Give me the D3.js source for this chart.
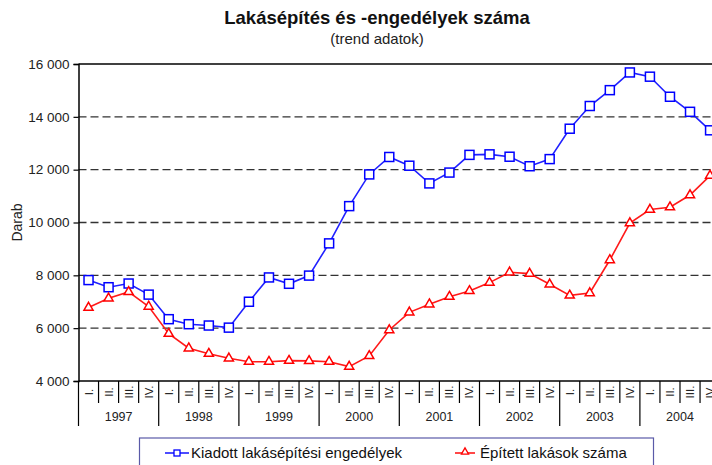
<!DOCTYPE html>
<html>
<head>
<meta charset="utf-8">
<script src="https://cdn.jsdelivr.net/npm/d3@7"></script>
<style>
  html, body { margin: 0; padding: 0; background: #fff; }
  svg text { font-family: "Liberation Sans", Arial, sans-serif; }
</style>
</head>
<body>
<div id="chart"></div>
<script>
const years = ["1997", "1998", "1999", "2000", "2001", "2002", "2003", "2004"];
const quarterLabels = ["I.", "II.", "III.", "IV."];
const categories = years.flatMap(y => quarterLabels.map(q => y + " " + q));
const permits = [7820, 7550, 7690, 7270, 6340, 6150, 6100, 6020,
                 7000, 7920, 7680, 7990, 9210, 10620, 11820, 12480,
                 12150, 11480, 11890, 12560, 12580, 12490, 12130, 12400,
                 13550, 14410, 15010, 15680, 15520, 14760, 14190, 13490];
const built = [6780, 7130, 7370, 6820, 5790, 5240, 5035, 4860,
               4730, 4730, 4770, 4760, 4730, 4545, 4950, 5930,
               6600, 6905, 7190, 7410, 7725, 8115, 8065, 7660,
               7240, 7330, 8580, 9980, 10490, 10580, 11040, 11775];
const yTicks = [4000, 6000, 8000, 10000, 12000, 14000, 16000];
const seriesNames = ["Kiadott lakásépítési engedélyek", "Épített lakások száma"];
const title = "Lakásépítés és -engedélyek száma";
const subtitle = "(trend adatok)";
const yLabel = "Darab";

const W = 712, H = 465;
const mLeft = 78.5, mTop = 64, mBottom = 381;
const bandW = 20.05;
const mRight = mLeft + categories.length * bandW;

const svg = d3.select("#chart").append("svg")
  .attr("width", W).attr("height", H);

const x = d3.scaleBand().domain(categories).range([mLeft, mRight]).padding(0);
const y = d3.scaleLinear().domain([4000, 16000]).range([mBottom, mTop]);
const fmt = v => d3.format(",")(v).replace(/,/g, " ");

// title
svg.append("text").attr("x", 377).attr("y", 24).attr("text-anchor", "middle")
  .attr("font-size", 18.5).attr("font-weight", "bold").attr("fill", "#111").text(title);
svg.append("text").attr("x", 377).attr("y", 44).attr("text-anchor", "middle")
  .attr("font-size", 15).attr("fill", "#222").text(subtitle);

// gridlines
svg.append("g").selectAll("line").data(yTicks.filter(t => t > 4000 && t < 16000)).join("line")
  .attr("x1", mLeft).attr("x2", mRight)
  .attr("y1", d => y(d)).attr("y2", d => y(d))
  .attr("stroke", "#333").attr("stroke-width", 1.4).attr("stroke-dasharray", "8,4");

// top border line
svg.append("line").attr("x1", mLeft).attr("x2", mRight).attr("y1", y(16000)).attr("y2", y(16000))
  .attr("stroke", "#000").attr("stroke-width", 1.5);

// y axis
const yAxis = d3.axisLeft(y).tickValues(yTicks).tickFormat(fmt).tickSize(5).tickPadding(4);
const gy = svg.append("g").attr("transform", `translate(${mLeft},0)`).call(yAxis);
gy.select(".domain").attr("stroke", "#000").attr("stroke-width", 1.5);
gy.selectAll(".tick line").attr("stroke", "#000").attr("stroke-width", 1.2);
gy.selectAll(".tick text").attr("font-size", 13.5).attr("fill", "#222")
  .attr("font-family", "Liberation Sans, Arial, sans-serif");

// y label
svg.append("text").attr("transform", `translate(22,${(mTop + mBottom) / 2}) rotate(-90)`)
  .attr("text-anchor", "middle").attr("font-size", 14).attr("fill", "#222").text(yLabel);

// x axis (bottom line + quarter / year dividers)
svg.append("line").attr("x1", mLeft).attr("x2", mRight).attr("y1", mBottom).attr("y2", mBottom)
  .attr("stroke", "#000").attr("stroke-width", 1.5);
const gx = svg.append("g");
gx.selectAll("line.q").data(categories).join("line").attr("class", "q")
  .attr("x1", d => x(d)).attr("x2", d => x(d))
  .attr("y1", mBottom)
  .attr("y2", (d, i) => i % 4 === 0 ? 426 : 403)
  .attr("stroke", "#000").attr("stroke-width", 1.2);
gx.selectAll("text.q").data(categories).join("text").attr("class", "q")
  .attr("transform", d => `translate(${x(d) + x.bandwidth() / 2 + 4},392) rotate(-90)`)
  .attr("text-anchor", "middle").attr("font-size", 11.5).attr("fill", "#222")
  .text(d => d.split(" ")[1]);
gx.selectAll("text.y").data(years).join("text").attr("class", "y")
  .attr("x", d => x(d + " I.") + 2 * bandW).attr("y", 421)
  .attr("text-anchor", "middle").attr("font-size", 12.5).attr("fill", "#222").text(d => d);

// lines
const line = d3.line().x((d, i) => x(categories[i]) + x.bandwidth() / 2).y(d => y(d));
svg.append("path").datum(permits).attr("d", line).attr("fill", "none")
  .attr("stroke", "#2020ff").attr("stroke-width", 1.6);
svg.append("path").datum(built).attr("d", line).attr("fill", "none")
  .attr("stroke", "#ff1a1a").attr("stroke-width", 1.6);

// markers
svg.append("g").selectAll("rect").data(permits).join("rect")
  .attr("x", (d, i) => x(categories[i]) + x.bandwidth() / 2 - 4.5)
  .attr("y", d => y(d) - 4.5).attr("width", 9).attr("height", 9)
  .attr("fill", "#fff").attr("stroke", "#0000ff").attr("stroke-width", 1.5);
const tri = d3.symbol().type(d3.symbolTriangle).size(36);
svg.append("g").selectAll("path").data(built).join("path")
  .attr("d", tri)
  .attr("transform", (d, i) => `translate(${x(categories[i]) + x.bandwidth() / 2},${y(d)})`)
  .attr("fill", "#fff").attr("stroke", "#ff0000").attr("stroke-width", 1.5);

// legend
const lg = svg.append("g");
lg.append("rect").attr("x", 139.5).attr("y", 438).attr("width", 514).attr("height", 40)
  .attr("fill", "#fff").attr("stroke", "#5a5aa8").attr("stroke-width", 1.2);
lg.append("line").attr("x1", 165).attr("x2", 189).attr("y1", 453).attr("y2", 453)
  .attr("stroke", "#2020ff").attr("stroke-width", 1.6);
lg.append("rect").attr("x", 174).attr("y", 450).attr("width", 6).attr("height", 6)
  .attr("fill", "#fff").attr("stroke", "#0000ff").attr("stroke-width", 1.3);
lg.append("text").attr("x", 191).attr("y", 458).attr("font-size", 15).attr("fill", "#111")
  .text(seriesNames[0]);
lg.append("line").attr("x1", 455).attr("x2", 475).attr("y1", 453).attr("y2", 453)
  .attr("stroke", "#ff1a1a").attr("stroke-width", 1.6);
lg.append("path").attr("d", d3.symbol().type(d3.symbolTriangle).size(22))
  .attr("transform", "translate(465,452)")
  .attr("fill", "#fff").attr("stroke", "#ff0000").attr("stroke-width", 1.3);
lg.append("text").attr("x", 480).attr("y", 458).attr("font-size", 15).attr("fill", "#111")
  .text(seriesNames[1]);
</script>
</body>
</html>
